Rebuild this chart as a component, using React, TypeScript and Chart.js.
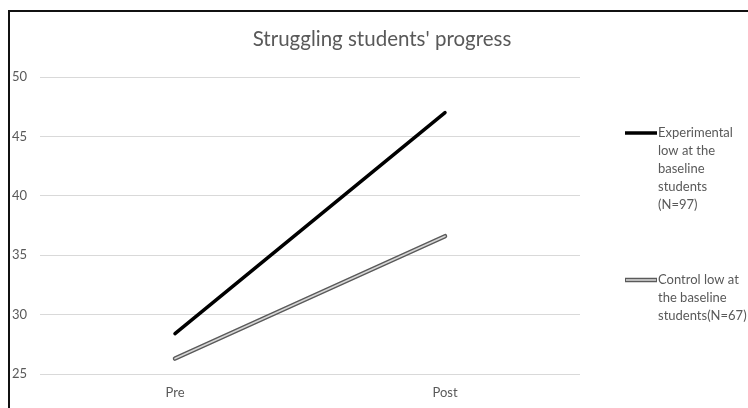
import React, { useEffect, useRef } from "react";
import { Chart, registerables } from "chart.js";

Chart.register(...registerables);

// Chart content
const titleText = "Struggling students' progress";
const categories = ["Pre", "Post"];
const experimentalValues = [28.4, 47.0];
const controlValues = [26.3, 36.6];
const experimentalLegend = ["Experimental", "low at the", "baseline", "students", "(N=97)"];
const controlLegend = ["Control low at", "the baseline", "students(N=67)"];
const yMin = 25;
const yMax = 50;
const yStep = 5;

const FONT = "Lato, 'Open Sans', sans-serif";
const TEXT_COLOR = "#595959";

// Title and wrapped legend drawn on the canvas
const decorPlugin = {
  id: "decor",
  afterDraw(chart: any) {
    const ctx = chart.ctx as CanvasRenderingContext2D;
    const area = chart.chartArea;
    ctx.save();
    // title
    ctx.fillStyle = TEXT_COLOR;
    ctx.font = `20.5px ${FONT}`;
    ctx.textAlign = "center";
    ctx.textBaseline = "middle";
    ctx.fillText(titleText, 382, 39);

    // legend
    const symX0 = area.right + 45;
    const symX1 = area.right + 77;
    const textX = area.right + 78;
    const lineH = 18;
    ctx.textAlign = "left";
    ctx.font = `13px ${FONT}`;

    const drawEntry = (y: number, lines: string[], kind: "exp" | "ctl") => {
      ctx.lineCap = "butt";
      if (kind === "exp") {
        ctx.strokeStyle = "#000";
        ctx.lineWidth = 3.5;
        ctx.beginPath();
        ctx.moveTo(symX0, y);
        ctx.lineTo(symX1, y);
        ctx.stroke();
      } else {
        ctx.strokeStyle = "#5a5a5a";
        ctx.lineWidth = 4.5;
        ctx.beginPath();
        ctx.moveTo(symX0, y);
        ctx.lineTo(symX1, y);
        ctx.stroke();
        ctx.strokeStyle = "#d6d6d6";
        ctx.lineWidth = 1.6;
        ctx.beginPath();
        ctx.moveTo(symX0 + 1, y);
        ctx.lineTo(symX1 - 1, y);
        ctx.stroke();
      }
      ctx.fillStyle = TEXT_COLOR;
      lines.forEach((t, i) => ctx.fillText(t, textX, y + i * lineH));
    };
    drawEntry(133, experimentalLegend, "exp");
    drawEntry(280, controlLegend, "ctl");
    ctx.restore();
  },
};

export default function App() {
  const canvasRef = useRef<HTMLCanvasElement | null>(null);

  useEffect(() => {
    if (!canvasRef.current) return;
    const chart = new Chart(canvasRef.current, {
      type: "line",
      data: {
        labels: categories,
        datasets: [
          {
            label: "Experimental low at the baseline students (N=97)",
            data: experimentalValues,
            borderColor: "#000",
            borderWidth: 3.5,
            borderCapStyle: "round",
            pointRadius: 0,
            tension: 0,
            order: 1,
          },
          {
            label: "Control low at the baseline students(N=67)",
            data: controlValues,
            borderColor: "#5a5a5a",
            borderWidth: 4.5,
            borderCapStyle: "round",
            pointRadius: 0,
            tension: 0,
            order: 2,
          },
          {
            // light centre stroke of the control line's double border
            label: "control-inner",
            data: controlValues,
            borderColor: "#d6d6d6",
            borderWidth: 1.6,
            borderCapStyle: "round",
            pointRadius: 0,
            tension: 0,
            order: 0,
          },
        ],
      },
      options: {
        animation: false,
        responsive: false,
        maintainAspectRatio: false,
        layout: { padding: { left: 12, right: 168, top: 77, bottom: 4 } },
        plugins: {
          legend: { display: false },
          title: { display: false },
          tooltip: { enabled: false },
        },
        scales: {
          x: {
            offset: true,
            grid: { display: false, drawTicks: false },
            border: { display: false },
            ticks: {
              color: TEXT_COLOR,
              font: { family: FONT, size: 13 },
              padding: 11,
            },
            afterFit(scale: any) {
              scale.height = 30;
            },
          },
          y: {
            min: yMin,
            max: yMax,
            grid: { color: "#d9d9d9", lineWidth: 1, drawTicks: false },
            border: { display: false },
            ticks: {
              stepSize: yStep,
              color: TEXT_COLOR,
              font: { family: FONT, size: 13 },
              crossAlign: "far",
              padding: 0,
            },
            afterFit(scale: any) {
              scale.width = 28;
            },
          },
        },
      },
      plugins: [decorPlugin],
    } as any);
    return () => chart.destroy();
  }, []);

  return (
    <div
      style={{
        position: "fixed",
        left: 0,
        top: 0,
        width: 748,
        height: 408,
        overflow: "hidden",
        background: "#fff",
      }}
    >
      <canvas
        ref={canvasRef}
        width={748}
        height={408}
        style={{ position: "absolute", left: 0, top: 0, width: 748, height: 408 }}
      />
      <div
        style={{
          position: "absolute",
          left: 8,
          top: 10,
          width: 800,
          height: 500,
          borderTop: "2px solid #111",
          borderLeft: "2px solid #111",
          pointerEvents: "none",
        }}
      />
    </div>
  );
}
